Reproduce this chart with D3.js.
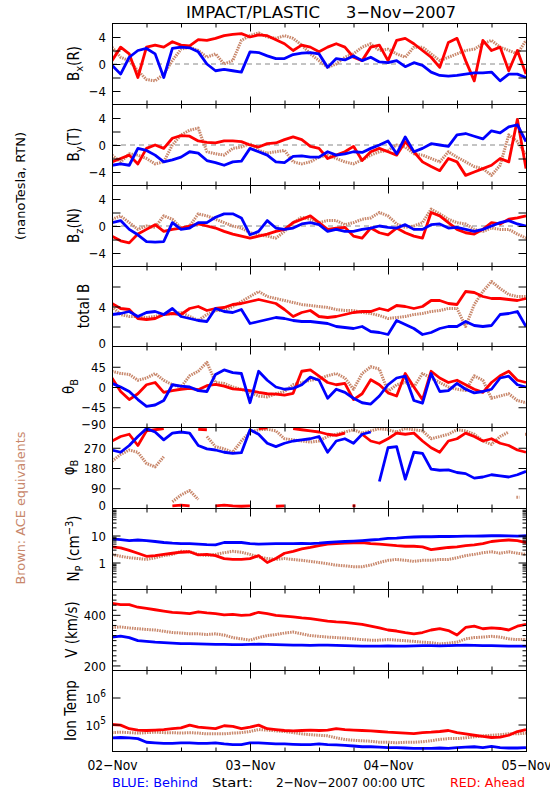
<!DOCTYPE html>
<html><head><meta charset="utf-8">
<script src="https://cdn.jsdelivr.net/npm/d3@7"></script>
<style>
body{margin:0;background:#fff}
svg{display:block}
text{font-family:"DejaVu Sans Condensed","DejaVu Sans",sans-serif;}
</style></head><body>
<svg id="c" width="550" height="800"></svg>
<script>
// ---------- time grid (hours after 2007-11-02 00:00 UTC) ----------
const hours=[0,1.5,3,4.5,6,7.5,9,10.5,12,13.5,15,16.5,18,19.5,21,22.5,24,25.5,27,28.5,30,31.5,33,34.5,36,37.5,39,40.5,42,43.5,45,46.5,48,49.5,51,52.5,54,55.5,57,58.5,60,61.5,63,64.5,66,67.5,69,70.5,72];

// ---------- Bx(R) ----------
const bxAhead=[0.5,2.5,1.5,-2.0,2.5,2.8,2.5,3.3,2.8,2.7,3.6,3.5,3.8,4.2,4.4,4.5,4.0,4.3,4.2,3.6,3.0,2.0,2.8,2.5,1.8,2.5,3.0,2.5,1.0,0.5,2.5,2.8,0.5,3.5,3.8,3.0,2.0,1.0,-0.5,3.2,3.8,0.5,-2.5,3.5,2.0,2.5,-1.0,2.0,-1.5];
const bxBehind=[-0.2,-1.5,1.0,2.0,2.3,1.5,-2.0,2.3,2.5,2.4,1.8,0.0,-1.0,-0.8,-1.0,-1.2,1.8,1.7,1.2,0.8,0.8,1.4,1.6,1.7,1.5,-0.5,0.8,0.6,1.2,0.5,1.0,0.3,0.2,0.5,-0.4,0.2,-0.2,-1.2,-1.7,-1.8,-1.7,-1.5,-1.3,-1.3,-1.2,-2.5,-1.5,-1.5,-2.0];
const bxAce=[2.5,1.0,0.5,-1.0,-2.3,-2.5,-1.5,0.5,2.2,2.5,2.0,1.0,1.5,0.0,0.5,3.5,4.2,4.6,4.0,3.8,4.2,3.8,2.8,1.5,0.5,-0.5,0.0,1.0,1.5,2.5,3.0,2.0,2.2,1.5,1.0,2.5,2.5,1.5,0.5,1.0,1.5,2.0,2.2,3.0,3.5,2.5,2.0,1.5,3.5];
// ---------- By(T) ----------
const byAhead=[-2.5,-2.0,-1.5,-2.8,-0.5,0.0,-0.5,1.0,1.4,1.3,0.6,0.4,0.3,0.6,0.6,0.5,0.0,-0.3,0.2,0.3,0.8,1.2,0.8,-0.2,-0.5,-2.0,-1.5,-1.0,-0.2,-2.3,-1.0,-0.5,-1.0,-1.5,0.5,-1.0,-2.5,-3.2,-3.8,-2.0,-2.5,-4.5,-4.0,-3.5,-3.0,-2.0,-2.5,3.8,-3.5];
const byBehind=[-3.0,-2.8,-3.0,-0.5,-0.8,-1.5,-2.5,-2.2,-1.8,-1.0,-1.2,-2.3,-2.6,-3.0,-2.5,-2.4,-0.5,-1.0,-1.5,-2.5,-2.6,-1.7,-1.6,-1.8,-1.8,-1.0,-1.5,-1.3,-1.0,-1.1,-0.5,0.0,0.6,-1.3,1.2,-1.0,-0.5,0.2,0.0,-0.2,1.5,1.7,1.3,0.9,2.1,1.8,2.7,3.0,0.5];
const byAce=[-1.5,-2.5,-1.3,-1.5,-2.0,-2.8,-2.5,0.0,1.5,2.2,2.5,-1.0,-1.3,-1.5,-0.5,-0.3,0.2,-0.8,-1.2,-1.0,-0.8,-2.5,-2.8,-2.5,-1.8,-1.5,-2.0,-2.5,-2.8,-2.2,-1.5,-1.0,-0.8,0.0,-0.3,-1.3,-1.5,-2.0,-2.5,-1.0,-1.8,-2.5,-3.2,-3.5,-4.5,-3.0,1.5,0.5,-1.5];
// ---------- Bz(N) ----------
const bzAhead=[-1.5,-2.2,-2.5,-1.2,-0.5,0.2,-0.8,-0.5,-0.3,0.0,0.3,0.0,-0.3,-0.8,-1.2,-1.5,-1.8,-1.5,-1.2,-0.8,-0.5,0.5,1.0,1.5,0.5,-0.5,-0.3,-0.2,-1.5,-1.8,-0.3,-1.0,-1.3,-0.3,-1.0,-1.5,-1.8,2.0,1.5,0.5,-0.5,-1.0,-1.2,-0.5,0.5,0.3,1.0,1.2,1.5];
const bzBehind=[0.5,0.8,-0.5,-1.3,-2.3,-2.4,-2.3,0.5,-0.5,-0.3,0.5,0.5,1.3,1.8,1.8,1.2,-1.3,-0.8,0.8,-0.3,-0.5,-0.3,0.3,0.5,0.2,-0.8,-0.5,-0.8,-0.8,-0.5,-0.3,0.0,-0.2,-0.3,0.2,-0.5,-0.5,0.2,0.3,-0.3,-0.2,-0.5,-0.8,-0.5,0.0,0.5,0.8,0.3,0.0];
const bzAce=[1.0,1.5,0.5,-0.5,0.0,-0.2,1.5,1.0,-0.3,0.0,1.8,1.5,1.0,0.5,0.0,-0.3,-1.0,-1.3,-1.5,-1.8,-0.8,0.5,1.3,1.0,0.5,0.8,0.8,0.2,0.5,1.0,1.2,2.0,1.5,0.3,-0.2,0.0,0.5,2.5,1.8,1.0,0.5,0.3,-0.5,-0.8,-0.3,-0.5,-0.5,-1.2,-1.8];
// ---------- total B ----------
const btAhead=[4.3,3.8,3.7,2.8,2.7,2.8,3.2,3.3,3.2,3.8,4.0,3.6,3.8,3.9,4.2,4.3,4.5,4.7,4.5,4.3,3.7,3.0,3.4,3.6,3.0,2.9,3.0,3.2,3.4,3.5,3.5,3.8,3.6,4.1,4.0,3.8,4.0,4.6,4.6,4.3,4.2,5.5,5.4,5.0,4.8,4.8,4.7,4.6,4.8];
const btBehind=[3.2,3.3,3.5,3.0,3.4,3.5,3.2,3.8,3.0,2.8,2.6,2.5,3.8,3.5,3.4,3.7,2.3,2.5,2.7,2.9,2.8,2.6,2.5,2.5,2.4,2.3,2.0,1.9,1.8,2.0,1.5,1.4,1.2,2.6,2.2,1.8,1.2,1.4,1.8,2.0,2.0,2.5,2.1,2.0,2.1,3.2,3.3,3.5,2.0];
const btAce=[4.0,3.2,3.0,3.0,2.9,3.0,3.2,3.3,3.4,3.0,2.6,3.2,3.6,3.6,4.0,4.5,5.0,5.5,5.0,4.8,4.6,4.4,4.2,4.1,4.0,3.9,3.7,3.6,3.6,3.4,3.3,3.1,2.8,2.9,3.0,3.2,3.3,3.5,3.6,3.8,3.8,2.0,4.2,5.5,6.5,5.8,5.2,5.0,5.0];
// ---------- theta_B ----------
const thAhead=[20,-10,-28,-15,5,10,-12,-8,-5,-3,-6,3,6,2,-4,-6,-8,-12,-15,-16,-18,-14,35,38,24,10,5,8,-28,-15,16,5,-13,-20,30,0,-28,35,20,10,15,5,-5,-12,10,25,35,15,10];
const thBehind=[8,0,-10,-28,-43,-40,-30,5,2,0,-8,-10,28,38,32,30,-35,35,15,0,-5,-3,5,22,15,-25,-5,-12,-25,-35,-38,-20,5,20,24,-30,-36,30,-10,-8,8,-5,-13,-10,-5,20,24,5,0];
const thAce=[35,30,28,15,20,30,15,5,0,25,35,55,10,8,0,-5,-12,-20,-22,-15,-10,5,10,15,18,25,30,20,-5,30,45,40,-10,5,10,0,30,20,10,0,-5,-8,25,15,-25,-20,-15,-30,-35];
// ---------- phi_B ----------
const phAhead=[300,320,330,280,345,350,355,12,15,12,352,350,12,15,12,10,12,355,358,10,12,355,350,345,340,330,325,335,12,330,300,290,310,335,330,335,300,270,250,300,310,335,320,300,310,290,280,260,250];
const phBehind=[260,250,280,320,355,340,305,335,340,335,280,265,260,250,245,248,350,330,290,275,290,300,305,310,320,250,300,310,290,330,340,120,270,275,130,250,245,175,170,172,160,155,135,140,150,145,140,150,165];
const phAce=[210,240,260,250,200,185,230,30,60,80,40,320,275,265,250,300,340,350,352,345,310,305,300,295,300,320,330,340,350,335,345,355,350,340,355,350,345,310,320,330,350,345,330,300,285,320,340,50,330];
// ---------- Np (cm^-3) ----------
const npAhead=[3.8,3.5,2.8,2.2,1.7,1.8,2.0,2.2,2.4,2.5,1.9,2.0,1.8,1.4,1.3,1.3,1.4,1.8,1.0,1.4,2.2,2.6,3.2,3.6,4.2,4.8,5.0,5.2,5.3,5.5,5.0,4.8,4.5,4.2,4.0,4.0,3.8,3.0,3.3,3.6,3.8,4.2,4.5,5.0,6.0,6.5,6.8,6.5,5.5];
const npBehind=[7.5,7.0,6.5,6.8,6.5,6.0,5.5,5.2,5.0,5.0,4.8,4.6,4.5,5.5,5.6,5.5,5.0,4.8,4.9,5.0,5.0,5.0,5.1,5.0,5.2,5.5,5.8,6.0,6.2,6.5,6.8,7.2,7.8,8.0,8.5,8.8,9.0,9.0,9.2,9.2,9.3,9.5,9.5,9.6,9.8,9.8,9.7,9.5,9.8];
const npAce=[2.0,1.7,1.5,1.4,1.3,1.5,1.8,2.0,2.6,2.5,2.0,1.8,2.0,2.3,2.6,2.4,2.0,1.6,1.4,1.3,1.4,1.3,1.2,1.1,1.0,0.9,0.8,0.75,0.7,0.7,0.8,1.0,1.2,1.3,1.2,1.1,1.2,1.2,1.3,1.3,1.5,1.8,2.0,2.3,2.5,2.2,2.5,2.2,2.0];
// ---------- V (km/s) ----------
const vAhead=[445,440,440,430,425,420,415,410,408,405,412,408,405,400,402,398,400,410,405,398,395,392,388,385,380,375,372,370,366,362,355,348,340,336,330,325,330,340,345,338,320,350,355,345,348,346,340,355,362];
const vBehind=[312,316,310,298,295,292,290,288,286,286,285,284,283,283,282,282,283,284,283,282,281,280,280,279,280,280,279,278,277,276,276,276,277,276,276,277,278,278,277,278,279,280,279,278,278,277,276,276,276];
const vAce=[350,352,348,345,342,340,335,330,328,325,325,322,325,320,310,305,300,310,318,322,328,332,325,318,315,312,310,308,305,302,300,300,302,300,298,295,292,290,285,288,292,305,310,312,315,312,305,302,302];
// ---------- Ion Temp (K) ----------
const tAhead=[100000,95000,70000,62000,60000,62000,65000,70000,75000,95000,80000,75000,70000,90000,85000,70000,80000,95000,70000,65000,60000,58000,60000,62000,60000,62000,70000,65000,62000,60000,58000,55000,52000,50000,48000,46000,50000,52000,55000,60000,50000,45000,40000,36000,33000,34000,40000,55000,65000];
const tBehind=[32000,33000,32000,30000,22000,21000,20000,20000,21000,21000,20000,20000,21000,19000,18000,18000,21000,21000,20000,19000,19000,18500,18000,18000,19000,18000,17500,17000,16000,15000,15000,14500,14000,14000,13500,13000,13000,13000,13500,13000,14000,14500,15000,14000,15500,14000,13500,13500,14000];
const tAce=[50000,52000,50000,48000,50000,52000,50000,50000,48000,50000,48000,45000,45000,45000,48000,50000,55000,65000,62000,58000,55000,50000,45000,42000,40000,38000,32000,28000,26000,25000,24000,22000,22000,21000,22000,22000,23000,25000,28000,30000,30000,32000,35000,38000,40000,42000,45000,45000,48000];

// ---------- tick values / labels ----------
const bTicks=[-4,-2,0,2,4], bLabelVals=[-4,0,4], bLabelText=["−4","0","4"];
const totTicks=[2,4,6], totLabelVals=[0,4], totLabelText=["0","4"];
const thTicks=[-45,0,45], thLabelVals=[-90,-45,0,45], thLabelText=["−90","−45","0","45"];
const phTicks=[90,180,270], phLabelVals=[0,90,180,270], phLabelText=["0","90","180","270"];
const npTicks=[1,10], npMinor=[0.2,0.3,0.4,0.5,0.6,0.7,0.8,0.9,2,3,4,5,6,7,8,9,20,30,40,50,60,70,80,90], npLabelVals=[1,10], npLabelText=["1","10"];
const vTicks=[200,400], vMinor=[220,240,260,280,300,320,340,360,380,420,440,460,480], vLabelVals=[200,400], vLabelText=["200","400"];
const tTicks=[1e5,1e6], tLabelVals=[1e5,1e6], tLabelExp=["5","6"];
const dayLabels=["02−Nov","03−Nov","04−Nov","05−Nov"];

const RED="#ff0000", BLUE="#0000ff", BROWN="#c8876b";

const svg=d3.select("#c");
const L=112, R=526;
const tops=[23,104,185,266,346,427,508,589,670,751];
const t0=Date.UTC(2007,10,2);
const x=d3.scaleUtc().domain([new Date(t0),new Date(Date.UTC(2007,10,5))]).range([L,R]);
const times=hours.map(h=>new Date(t0+h*3600e3));
const hourTicks=x.ticks(d3.utcHour.every(6));
const dayTicks=x.ticks(d3.utcDay.every(1));

const panels=[
 {red:bxAhead,blue:bxBehind,brown:bxAce,type:"lin",domain:[-6,6],ticks:bTicks,lv:bLabelVals,lt:bLabelText,zero:true,lx:79,label:[["B"],["x","sub"],["(R)"]]},
 {red:byAhead,blue:byBehind,brown:byAce,type:"lin",domain:[-6,6],ticks:bTicks,lv:bLabelVals,lt:bLabelText,zero:true,lx:79,label:[["B"],["y","sub"],["(T)"]]},
 {red:bzAhead,blue:bzBehind,brown:bzAce,type:"lin",domain:[-6,6],ticks:bTicks,lv:bLabelVals,lt:bLabelText,zero:true,lx:79,label:[["B"],["z","sub"],["(N)"]]},
 {red:btAhead,blue:btBehind,brown:btAce,type:"lin",domain:[0,8],ticks:totTicks,lv:totLabelVals,lt:totLabelText,lx:89,label:[["total B"]]},
 {red:thAhead,blue:thBehind,brown:thAce,type:"lin",domain:[-90,90],ticks:thTicks,lv:thLabelVals,lt:thLabelText,lx:74,label:[["θ"],["B","sub"]]},
 {red:phAhead,blue:phBehind,brown:phAce,type:"lin",domain:[0,360],ticks:phTicks,lv:phLabelVals,lt:phLabelText,wrap:true,lx:74,label:[["φ"],["B","sub"]]},
 {red:npAhead,blue:npBehind,brown:npAce,type:"log",domain:[0.1,100],ticks:npTicks,minor:npMinor,lv:npLabelVals,lt:npLabelText,lx:79,label:[["N"],["P","sub"],[" (cm"],["−3","sup"],[")"]]},
 {red:vAhead,blue:vBehind,brown:vAce,type:"lin",domain:[180,500],ticks:vTicks,minor:vMinor,lv:vLabelVals,lt:vLabelText,lx:77,label:[["V (km/s)"]]},
 {red:tAhead,blue:tBehind,brown:tAce,type:"log",domain:[1e4,1e7],ticks:tTicks,lv:tLabelVals,lt:null,exp:tLabelExp,lx:76,label:[["Ion Temp"]]}
];

const defs=svg.append("defs");
function clean(g){g.select(".domain").remove();g.attr("font-family",null).attr("font-size",null);}

panels.forEach((p,i)=>{
  const y0=tops[i], y1=tops[i+1];
  const y=(p.type==="log"?d3.scaleLog():d3.scaleLinear()).domain(p.domain).range([y1+0.5,y0+0.5]);
  const cid="clip"+i;
  defs.append("clipPath").attr("id",cid).append("rect").attr("x",L).attr("y",y0).attr("width",R-L+1).attr("height",y1-y0+1);
  const dg=svg.append("g").attr("clip-path",`url(#${cid})`);
  if(p.zero){
    dg.append("line").attr("x1",L).attr("x2",R).attr("y1",y(0)).attr("y2",y(0))
      .attr("stroke","#888").attr("stroke-dasharray","5,4").attr("stroke-width",1);
  }
  const series=[[p.brown,BROWN,true],[p.red,RED,false],[p.blue,BLUE,false]];
  series.forEach(([vals,col,dotted])=>{
    let segs=[[]];
    vals.forEach((v,j)=>{
      if(p.wrap && j>0 && Math.abs(v-vals[j-1])>180) segs.push([]);
      segs[segs.length-1].push([times[j],v]);
    });
    const line=d3.line().x(d=>x(d[0])).y(d=>y(d[1]));
    segs.forEach(s=>{
      const path=dg.append("path").attr("d",s.length>1?line(s):`M${x(s[0][0])-1},${y(s[0][1])}h3`)
        .attr("fill","none").attr("stroke",col).attr("stroke-width",dotted?3:2.8)
        .attr("stroke-linejoin","round");
      if(dotted) path.attr("stroke-dasharray","1.5,1");
    });
  });
  // frame
  svg.append("rect").attr("x",L+0.5).attr("y",y0+0.5).attr("width",R-L).attr("height",y1-y0)
     .attr("fill","none").attr("stroke","#000").attr("stroke-width",1);
  // y ticks (left and right, inward)
  svg.append("g").attr("transform",`translate(${L+0.5},0)`)
    .call(d3.axisLeft(y).tickValues(p.ticks).tickSize(-8).tickFormat(""))
    .call(clean);
  svg.append("g").attr("transform",`translate(${R+0.5},0)`)
    .call(d3.axisRight(y).tickValues(p.ticks).tickSize(-8).tickFormat(""))
    .call(clean);
  if(p.minor){
    svg.append("g").attr("transform",`translate(${L+0.5},0)`)
      .call(d3.axisLeft(y).tickValues(p.minor).tickSize(-4).tickFormat("")).call(clean);
    svg.append("g").attr("transform",`translate(${R+0.5},0)`)
      .call(d3.axisRight(y).tickValues(p.minor).tickSize(-4).tickFormat("")).call(clean);
  }
  const lab=svg.append("g").attr("transform",`translate(${L},0)`)
    .call(d3.axisLeft(y).tickValues(p.lv).tickSize(0).tickPadding(6)
      .tickFormat((d,k)=>p.lt?p.lt[k]:"10"))
    .call(clean);
  lab.selectAll("text").attr("font-size",13).attr("fill","#000")
    .attr("dy",d=>(Math.abs(d-p.domain[0])<1e-9)?"0.05em":"0.36em");
  if(p.exp){
    lab.selectAll("text").append("tspan").attr("dy","-6").attr("font-size",10).text((d,k)=>p.exp[k]);
  }
  // x ticks top/bottom
  [[d3.axisTop,y0+0.5],[d3.axisBottom,y1+0.5]].forEach(([ax,yy])=>{
    svg.append("g").attr("transform",`translate(0,${yy})`)
      .call(ax(x).tickValues(hourTicks).tickSize(-4).tickFormat("")).call(clean);
    svg.append("g").attr("transform",`translate(0,${yy})`)
      .call(ax(x).tickValues(dayTicks).tickSize(-8).tickFormat("")).call(clean);
  });
  // y title
  const cy=(y0+y1)/2;
  const tt=svg.append("text").attr("transform",`translate(${p.lx},${cy}) rotate(-90)`)
    .attr("text-anchor","middle").attr("font-size",15).attr("fill","#000");
  let shift=0;
  p.label.forEach(([s,kind])=>{
    const ts=tt.append("tspan").text(s);
    let target=kind==="sub"?4:kind==="sup"?-6:0;
    if(target!==shift){ts.attr("dy",target-shift);shift=target;}
    if(kind) ts.attr("font-size",11);
  });
});

// bottom date labels
const bx=svg.append("g").attr("transform",`translate(0,${tops[9]})`)
  .call(d3.axisBottom(x).tickValues(dayTicks).tickSize(0).tickPadding(9).tickFormat((d,k)=>dayLabels[k]))
  .call(clean);
bx.selectAll("text").attr("font-size",14).attr("fill","#000")
  .attr("textLength",50).attr("lengthAdjust","spacingAndGlyphs");

// title
svg.append("text").attr("x",186).attr("y",18).attr("font-size",16).attr("textLength",134)
  .attr("lengthAdjust","spacingAndGlyphs").text("IMPACT/PLASTIC");
svg.append("text").attr("x",346).attr("y",18).attr("font-size",16).attr("textLength",110)
  .attr("lengthAdjust","spacingAndGlyphs").text("3−Nov−2007");

// footer
svg.append("text").attr("x",112).attr("y",787).attr("font-size",13).attr("fill",BLUE)
  .attr("textLength",86).attr("lengthAdjust","spacingAndGlyphs").text("BLUE: Behind");
svg.append("text").attr("x",212).attr("y",787).attr("font-size",13)
  .attr("textLength",41).attr("lengthAdjust","spacingAndGlyphs").text("Start:");
svg.append("text").attr("x",276).attr("y",787).attr("font-size",13)
  .attr("textLength",149).attr("lengthAdjust","spacingAndGlyphs").text("2−Nov−2007 00:00 UTC");
svg.append("text").attr("x",450).attr("y",787).attr("font-size",13).attr("fill",RED)
  .attr("textLength",75).attr("lengthAdjust","spacingAndGlyphs").text("RED: Ahead");

// side labels
svg.append("text").attr("transform","translate(25,186) rotate(-90)").attr("text-anchor","middle")
  .attr("font-size",13).attr("textLength",108).attr("lengthAdjust","spacingAndGlyphs").text("(nanoTesla, RTN)");
svg.append("text").attr("transform","translate(25,508) rotate(-90)").attr("text-anchor","middle")
  .attr("font-size",13).attr("fill",BROWN).attr("textLength",153).attr("lengthAdjust","spacingAndGlyphs").text("Brown: ACE equivalents");
</script>
</body></html>
